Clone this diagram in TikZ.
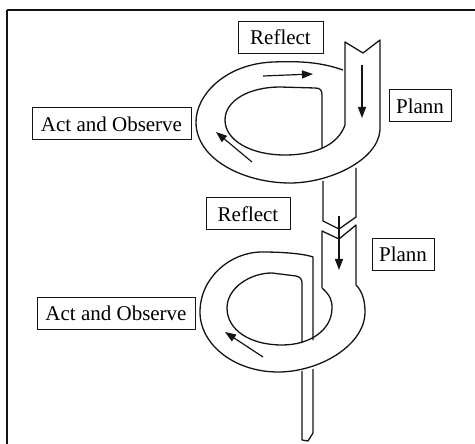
\documentclass[tikz,border=0pt]{standalone}
\usepackage{fontspec}
\setmainfont{Liberation Serif}
\usepackage{tikz}
\usetikzlibrary{arrows.meta}
\definecolor{ink}{RGB}{20,20,20}

\begin{document}
\begin{tikzpicture}[x=1pt, y=-1pt,
    band/.style={draw=ink, line width=1.3pt, line join=round},
    flow/.style={draw=ink, line width=1.2pt, -{Triangle[length=11pt, width=8pt]}},
    stage/.style={draw=ink, line width=1pt, inner sep=0pt, minimum height=32pt,
      font=\fontsize{21}{23}\selectfont}]
  \useasboundingbox (0,0) rectangle (475,444);

  % Frame
  \draw[line width=2.5pt, ink] (7,10) -- (475,10);
  \draw[line width=2.5pt, ink] (7,10) -- (7,444);

  % Upper cycle: strip
  \draw[band] (345,125) -- (345,42) -- (363,53) -- (380,40) -- (380,130);
  % Upper cycle: outer edge
  \draw[band] (343,70) .. controls (320,62) and (300,61) .. (273,62)
    .. controls (225,64) and (196,95) .. (196,122)
    .. controls (196,160) and (245,183) .. (290,183)
    .. controls (330,183) and (378,160) .. (380,130);
  % Upper cycle: inner edge
  \draw[band] (345,125) .. controls (338,145) and (315,155) .. (285,155)
    .. controls (250,155) and (225,140) .. (225,120)
    .. controls (225,100) and (250,87) .. (280,87)
    -- (315,88) .. controls (320,88) and (322,90) .. (322,95) -- (322,148);

  % Link between cycles
  \draw[band] (323,181) -- (323,221) -- (339,229) -- (356,217) -- (356,168);

  % Lower cycle: strip
  \draw[band] (322,288) -- (322,231) -- (339,239) -- (356,225) -- (356,285);
  % Lower cycle: outer edge
  \draw[band] (356,285) .. controls (363,292) and (365,302) .. (365,312)
    .. controls (365,345) and (320,372) .. (278,372)
    .. controls (235,372) and (200,345) .. (200,312)
    .. controls (200,278) and (230,252) .. (262,252)
    .. controls (285,252) and (305,254) .. (313,257) -- (313,340);
  % Lower cycle: inner edge
  \draw[band] (322,288) .. controls (330,295) and (332,300) .. (332,308)
    .. controls (332,330) and (310,345) .. (282,345)
    .. controls (250,345) and (227,330) .. (227,308)
    .. controls (227,288) and (250,273) .. (272,273)
    -- (296,276) .. controls (300,277) and (302,279) .. (302,283) -- (302,343);
  % Tail
  \draw[band] (302,371) -- (302,440) -- (308,441) -- (313,433) -- (313,369);

  % Arrows
  \draw[flow] (263,76) -- (313,74);
  \draw[flow] (252,162) -- (216,132);
  \draw[flow] (362,65) -- (362,118);
  \draw[flow] (339,216) -- (339,270);
  \draw[flow] (263,357) -- (225,332);

  % Labels
  \node[stage, minimum width=85pt] (reflectA) at (280.5,37.5) {Reflect};
  \node[stage, minimum width=62pt] (plannA) at (420,106) {Plann};
  \node[stage, minimum width=159pt] (actA) at (111.5,124) {Act and Observe};
  \node[stage, minimum width=84pt] (reflectB) at (248,214) {Reflect};
  \node[stage, minimum width=62pt] (plannB) at (403,254.5) {Plann};
  \node[stage, minimum width=158pt] (actB) at (116,313.5) {Act and Observe};
\end{tikzpicture}
\end{document}
